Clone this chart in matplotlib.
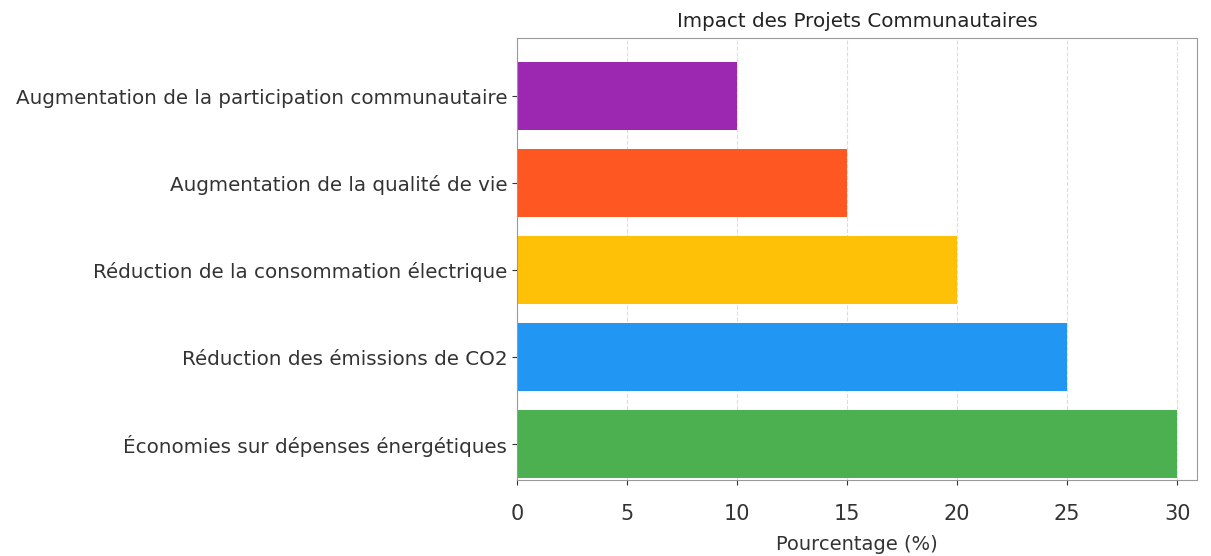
import matplotlib
matplotlib.use("Agg")
import matplotlib.pyplot as plt

# Impact des projets communautaires (pourcentages)
categories = [
    "Économies sur dépenses énergétiques",
    "Réduction des émissions de CO2",
    "Réduction de la consommation électrique",
    "Augmentation de la qualité de vie",
    "Augmentation de la participation communautaire",
]
values = [30, 25, 20, 15, 10]
colors = ["#4CAF50", "#2196F3", "#FFC107", "#FF5722", "#9C27B0"]
xticks = [0, 5, 10, 15, 20, 25, 30]

plt.rcParams["font.family"] = ["DejaVu Sans"]

fig = plt.figure(figsize=(12.11, 5.56), dpi=100)
ax = fig.add_axes([517 / 1211, 1 - 480 / 556, 680 / 1211, 442 / 556])

ax.barh(categories, values, color=colors, height=0.78, zorder=2)

ax.set_xlim(0, 30.9)
ax.set_ylim(-0.41, 4.67)
ax.set_xticks(xticks)
ax.tick_params(axis="y", labelsize=14.3, colors="#333333", labelcolor="#333333")
ax.tick_params(axis="x", labelsize=15, colors="#333333", labelcolor="#333333", pad=14)
ax.set_xlabel("Pourcentage (%)", fontsize=14, color="#333333", labelpad=8)
ax.set_title("Impact des Projets Communautaires", fontsize=14.3, color="#222222", pad=8)
ax.grid(axis="x", linestyle="--", color="#dddddd", linewidth=0.8, zorder=0)

for side in ax.spines.values():
    side.set_color("#999999")

fig.savefig("out.png", dpi=100)
